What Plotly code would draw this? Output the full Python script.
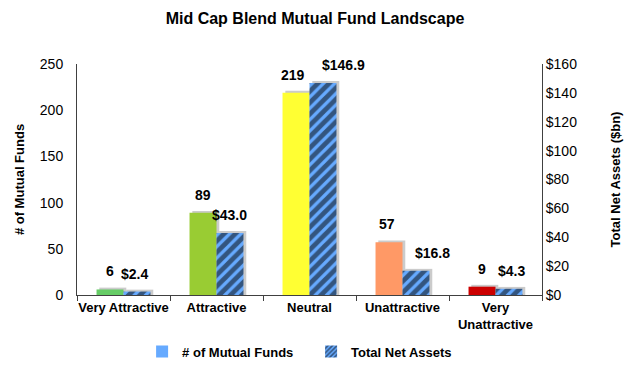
import plotly.graph_objects as go

categories = ["Very Attractive", "Attractive", "Neutral", "Unattractive", "Very<br>Unattractive"]
num_funds = [6, 89, 219, 57, 9]
net_assets = [2.4, 43.0, 146.9, 16.8, 4.3]
fund_colors = ["#66CC66", "#99CC33", "#FFFF33", "#FF9966", "#CC0000"]
funds_labels = ["<b>%d</b>" % v for v in num_funds]
assets_labels = ["<b>$%.1f</b>" % v for v in net_assets]
left_ticks = [0, 50, 100, 150, 200, 250]
right_ticks = [0, 20, 40, 60, 80, 100, 120, 140, 160]

# label placement styling (pixel nudges like the original's hand-placed labels)
funds_label_dx = [0, 0, -3, -2, 0]
assets_label_dx = [-2, 0, 21, 17, 3]

BLUE = "#66AAFF"
W = 0.29
SH_DX = 0.03
SHADOW = "rgba(140,140,140,0.45)"
font_family = "Liberation Sans, Arial, sans-serif"

fig = go.Figure()

# shadows
fig.add_trace(go.Bar(x=categories, y=[v + 2.0 for v in num_funds], width=W, offset=-W + SH_DX,
                     marker=dict(color=SHADOW, line=dict(width=0)),
                     showlegend=False, hoverinfo="skip", yaxis="y"))
fig.add_trace(go.Bar(x=categories, y=[v + 1.3 for v in net_assets], width=W, offset=SH_DX,
                     marker=dict(color=SHADOW, line=dict(width=0)),
                     showlegend=False, hoverinfo="skip", yaxis="y2"))

fig.add_trace(go.Bar(x=categories, y=num_funds, width=W, offset=-W,
                     marker=dict(color=fund_colors, line=dict(width=0)),
                     showlegend=False, yaxis="y", name="# of Mutual Funds"))
fig.add_trace(go.Bar(x=categories, y=net_assets, width=W, offset=0,
                     marker=dict(color=BLUE, line=dict(width=0),
                                 pattern=dict(shape="/", fgcolor="#000000", bgcolor=BLUE,
                                              size=8, solidity=0.6)),
                     showlegend=False, yaxis="y2", name="Total Net Assets"))

# legend-only entries
fig.add_trace(go.Bar(x=[None], y=[None], name="<b># of Mutual Funds</b>",
                     marker=dict(color=BLUE, line=dict(width=0))))
fig.add_trace(go.Bar(x=[None], y=[None], name="<b>Total Net Assets</b>",
                     marker=dict(color=BLUE, line=dict(width=0),
                                 pattern=dict(shape="/", fgcolor="#000000", bgcolor=BLUE,
                                              size=4, solidity=0.5))))

annotations = []
for i, (v, t, dx) in enumerate(zip(num_funds, funds_labels, funds_label_dx)):
    annotations.append(dict(x=i - W / 2, y=v, xref="x", yref="y", text=t, showarrow=False,
                            yanchor="bottom", yshift=8, xshift=dx,
                            font=dict(size=14, color="#000")))
for i, (v, t, dx) in enumerate(zip(net_assets, assets_labels, assets_label_dx)):
    annotations.append(dict(x=i + W / 2, y=v, xref="x", yref="y2", text=t, showarrow=False,
                            yanchor="bottom", yshift=8, xshift=dx,
                            font=dict(size=14, color="#000")))

fig.update_layout(
    width=630, height=367,
    margin=dict(l=77, r=88, t=64, b=72, autoexpand=False),
    paper_bgcolor="white", plot_bgcolor="white",
    font=dict(family=font_family, size=14, color="#000"),
    title=dict(text="<b>Mid Cap Blend Mutual Fund Landscape</b>", x=0.5, xanchor="center",
               y=0.951, yanchor="middle", font=dict(size=16, color="#000")),
    barmode="overlay",
    annotations=annotations,
    xaxis=dict(type="category", categoryorder="array", categoryarray=categories,
               tickvals=categories, ticktext=["<b>%s</b>" % c for c in categories],
               tickangle=0, automargin=False,
               showline=True, linecolor="#404040", linewidth=1,
               ticks="outside", tickson="boundaries", ticklen=5, tickcolor="#404040",
               tickfont=dict(size=13), range=[-0.5, 4.5], showgrid=False),
    yaxis=dict(range=[0, 250], tickvals=left_ticks, showgrid=False, zeroline=False,
               automargin=False, ticklabelstandoff=10,
               showline=True, linecolor="#404040", linewidth=1, ticks="", tickfont=dict(size=14),
               title=dict(text="<b># of Mutual Funds</b>", font=dict(size=13), standoff=12)),
    yaxis2=dict(range=[0, 160], tickvals=right_ticks, ticktext=["$%d" % v for v in right_ticks],
                overlaying="y", side="right", showgrid=False, zeroline=False, automargin=False,
                showline=True, linecolor="#404040", linewidth=1, ticks="", tickfont=dict(size=14),
                title=dict(text="<b>Total Net Assets ($bn)</b>", font=dict(size=13), standoff=34)),
    legend=dict(orientation="h", x=0.14, xanchor="left", y=-0.245, yanchor="middle",
                font=dict(size=13), entrywidth=124, traceorder="normal",
                bgcolor="rgba(0,0,0,0)"),
    showlegend=True,
)

fig.write_html("out.html", config={"displayModeBar": False},
               post_script="document.body.style.margin='0';")
